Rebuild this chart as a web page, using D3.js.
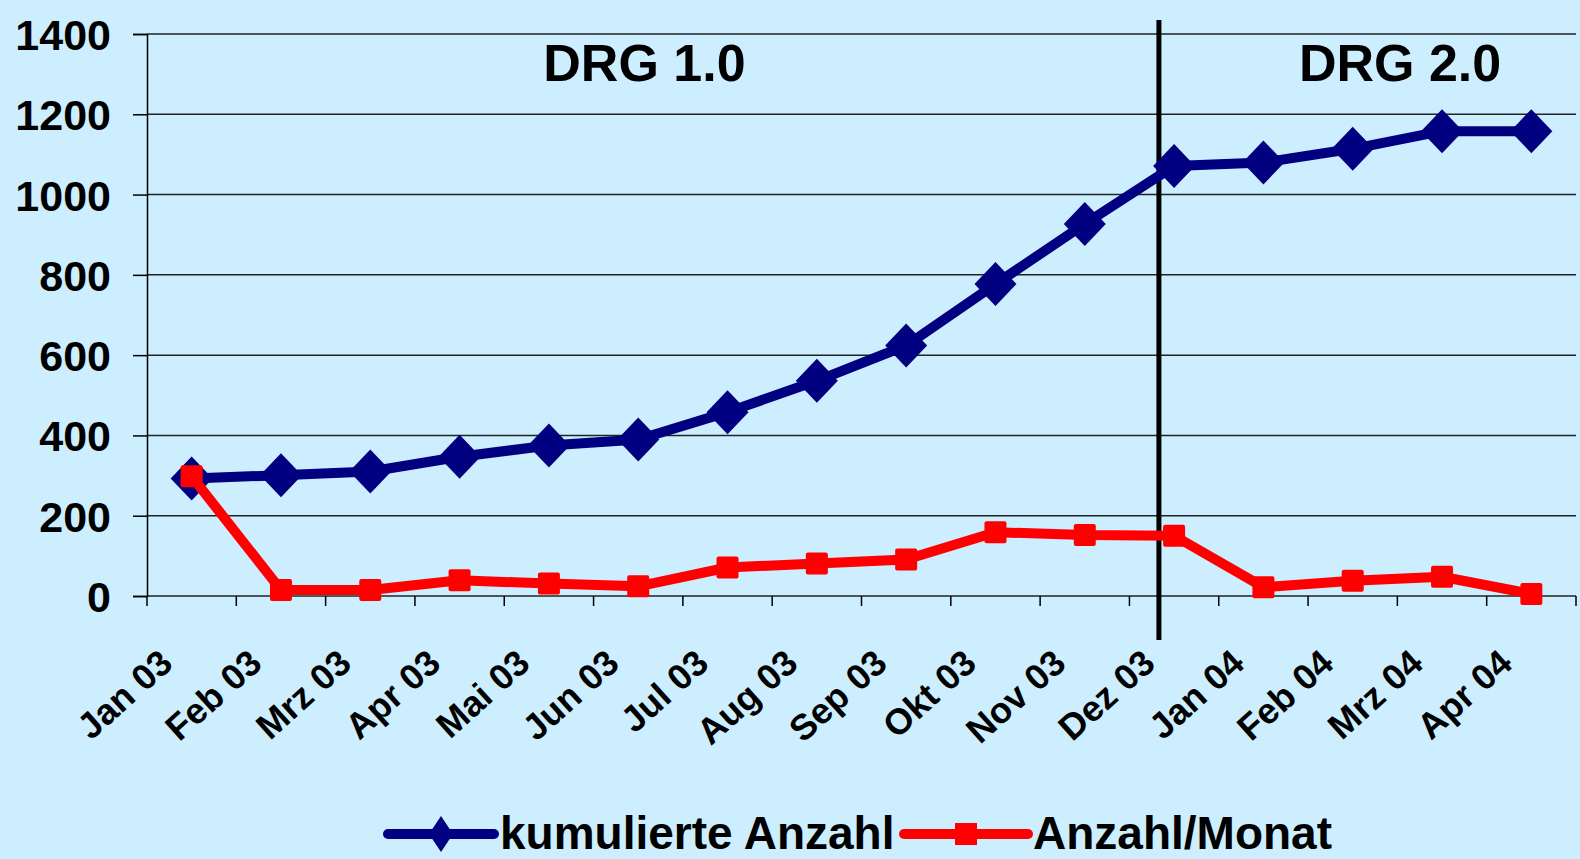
<!DOCTYPE html>
<html>
<head>
<meta charset="utf-8">
<script src="https://cdn.jsdelivr.net/npm/d3@7"></script>
<style>
  html, body { margin: 0; padding: 0; background: #cceeff; }
  svg { display: block; font-family: "Liberation Sans", Arial, sans-serif; font-weight: bold; }
</style>
</head>
<body>
<div id="chartContainer"></div>
<script>
var months = ["Jan 03", "Feb 03", "Mrz 03", "Apr 03", "Mai 03", "Jun 03", "Jul 03", "Aug 03",
  "Sep 03", "Okt 03", "Nov 03", "Dez 03", "Jan 04", "Feb 04", "Mrz 04", "Apr 04"];
var kumuliert = [293, 301, 310, 347, 375, 390, 458, 536, 624, 777, 927, 1071, 1080, 1114, 1158, 1158];
var proMonat = [298, 15, 15, 39, 31, 24, 71, 81, 91, 159, 152, 150, 22, 38, 48, 5];
var yTicks = [0, 200, 400, 600, 800, 1000, 1200, 1400];
var seriesNames = ["kumulierte Anzahl", "Anzahl/Monat"];
var phaseLabels = ["DRG 1.0", "DRG 2.0"];
// positions in month units: divider one third into Dez 03, labels centred over each phase
var phaseBreak = 11.33;
var phaseCenters = [5.57, 14.03];

function drawChart() {
  var W = 1580, H = 859;
  var margin = { top: 34, right: 4, bottom: 263, left: 147 };
  var width = W - margin.left - margin.right;
  var height = H - margin.top - margin.bottom;

  var svg = d3.select("#chartContainer")
    .append("svg")
    .attr("width", W)
    .attr("height", H);

  svg.append("rect")
    .attr("width", W).attr("height", H)
    .attr("fill", "#cceeff");

  var g = svg.append("g")
    .attr("transform", "translate(" + margin.left + "," + margin.top + ")");

  var x = d3.scaleBand().domain(months).range([0, width]).padding(0);
  var xi = d3.scaleLinear().domain([0, months.length]).range([0, width]);
  var y = d3.scaleLinear().domain([0, 1400]).range([height, 0]);
  var cx = function(d, i) { return x(months[i]) + x.bandwidth() / 2; };

  // gridlines
  g.append("g")
    .selectAll("line")
    .data(yTicks)
    .enter()
    .append("line")
    .attr("x1", 0)
    .attr("x2", width)
    .attr("y1", function(d) { return y(d); })
    .attr("y2", function(d) { return y(d); })
    .attr("stroke", "#222")
    .attr("stroke-width", 1.5);

  // y axis
  var yAxis = g.append("g")
    .call(d3.axisLeft(y).tickValues(yTicks).tickFormat(d3.format("d")).tickSize(14).tickPadding(22));
  yAxis.select(".domain").attr("stroke", "#000").attr("stroke-width", 1.5);
  yAxis.selectAll(".tick line").attr("stroke", "#000").attr("stroke-width", 1.5);
  yAxis.selectAll("text")
    .attr("font-size", "43px")
    .attr("font-weight", "bold")
    .attr("font-family", "Liberation Sans, Arial, sans-serif")
    .attr("fill", "#000")
    .attr("dy", "0.36em");

  // x axis: ticks between months
  var xg = g.append("g").attr("transform", "translate(0," + height + ")");
  xg.selectAll("line.tick")
    .data(d3.range(months.length + 1))
    .enter()
    .append("line")
    .attr("class", "tick")
    .attr("x1", function(d) { return xi(d); })
    .attr("x2", function(d) { return xi(d); })
    .attr("y1", 0)
    .attr("y2", 10)
    .attr("stroke", "#000")
    .attr("stroke-width", 1.5);

  xg.selectAll("text")
    .data(months)
    .enter()
    .append("text")
    .attr("transform", function(d) {
      return "translate(" + (x(d) + x.bandwidth() / 2 - 17) + ",70) rotate(-42)";
    })
    .attr("text-anchor", "end")
    .attr("font-size", "36px")
    .attr("fill", "#000")
    .text(function(d) { return d; });

  // phase divider
  g.append("line")
    .attr("x1", xi(phaseBreak))
    .attr("x2", xi(phaseBreak))
    .attr("y1", -14)
    .attr("y2", height + 44)
    .attr("stroke", "#000")
    .attr("stroke-width", 5);

  g.selectAll(".phase")
    .data(phaseLabels)
    .enter()
    .append("text")
    .attr("class", "phase")
    .attr("x", function(d, i) { return xi(phaseCenters[i]); })
    .attr("y", 47)
    .attr("text-anchor", "middle")
    .attr("font-size", "52px")
    .attr("fill", "#000")
    .text(function(d) { return d; });

  var line = d3.line()
    .x(function(d, i) { return cx(d, i); })
    .y(function(d) { return y(d); });

  var diamond = "M0,-22L21,0L0,22L-21,0Z";

  // kumulierte Anzahl
  g.append("path")
    .datum(kumuliert)
    .attr("d", line)
    .attr("fill", "none")
    .attr("stroke", "#000080")
    .attr("stroke-width", 10)
    .attr("stroke-linejoin", "round");

  g.selectAll(".dia")
    .data(kumuliert)
    .enter()
    .append("path")
    .attr("class", "dia")
    .attr("transform", function(d, i) { return "translate(" + cx(d, i) + "," + y(d) + ")"; })
    .attr("d", diamond)
    .attr("fill", "#000080");

  // Anzahl/Monat
  g.append("path")
    .datum(proMonat)
    .attr("d", line)
    .attr("fill", "none")
    .attr("stroke", "#ff0000")
    .attr("stroke-width", 10)
    .attr("stroke-linejoin", "round");

  g.selectAll(".sq")
    .data(proMonat)
    .enter()
    .append("rect")
    .attr("class", "sq")
    .attr("x", function(d, i) { return cx(d, i) - 11; })
    .attr("y", function(d) { return y(d) - 11; })
    .attr("width", 22)
    .attr("height", 22)
    .attr("rx", 2)
    .attr("fill", "#ff0000");

  // legend
  var legend = svg.append("g").attr("transform", "translate(0,834)");
  var items = [
    { name: seriesNames[0], color: "#000080", x0: 388, x1: 494, text: 500, marker: "dia" },
    { name: seriesNames[1], color: "#ff0000", x0: 904, x1: 1028, text: 1033, marker: "sq" }
  ];
  items.forEach(function(it) {
    legend.append("line")
      .attr("x1", it.x0).attr("x2", it.x1)
      .attr("y1", 0).attr("y2", 0)
      .attr("stroke", it.color)
      .attr("stroke-width", 10)
      .attr("stroke-linecap", "round");
    var mx = (it.x0 + it.x1) / 2;
    if (it.marker === "dia") {
      legend.append("path")
        .attr("transform", "translate(" + mx + ",0)")
        .attr("d", "M0,-18L12,0L0,18L-12,0Z")
        .attr("fill", it.color);
    } else {
      legend.append("rect")
        .attr("x", mx - 11).attr("y", -11)
        .attr("width", 22).attr("height", 22)
        .attr("fill", it.color);
    }
    legend.append("text")
      .attr("x", it.text)
      .attr("y", 15)
      .attr("font-size", "46px")
      .attr("fill", "#000")
      .text(it.name);
  });
}

drawChart();
</script>
</body>
</html>
